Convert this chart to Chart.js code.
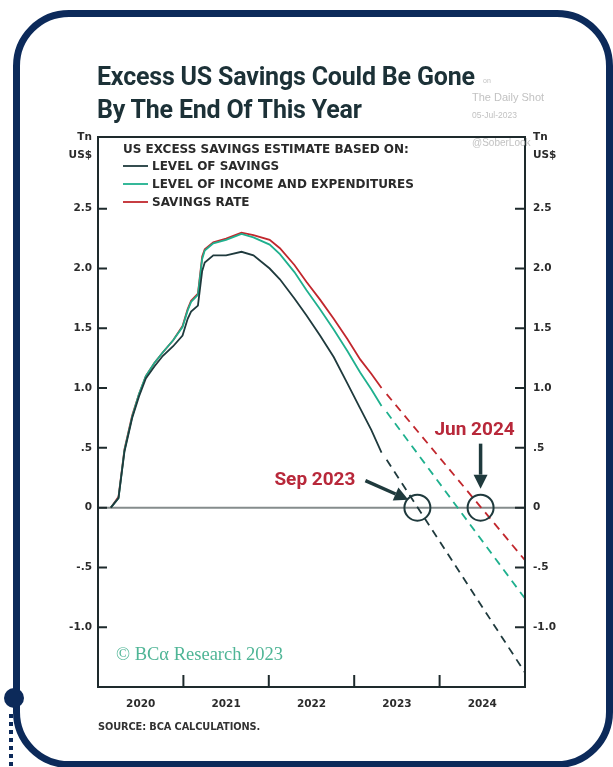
<!DOCTYPE html>
<html lang="en">
<head>
<meta charset="UTF-8">
<title>Excess US Savings</title>
<script src="https://cdn.jsdelivr.net/npm/chart.js@4.4.1/dist/chart.umd.min.js"></script>
<style>
    html, body { margin: 0; padding: 0; background: #ffffff; }
    body { width: 613px; height: 767px; position: relative; overflow: hidden; font-family: 'DejaVu Sans', sans-serif; }
    #frame {
        position: absolute; left: 13px; top: 10px; width: 586px; height: 744px;
        border: 7px solid #0c2a5a; border-radius: 56px;
    }
    #dot { position: absolute; left: 4px; top: 688px; width: 20px; height: 20px; border-radius: 50%; background: #0c2a5a; }
    #dots { position: absolute; left: 9px; top: 714px; width: 4px; height: 53px;
        background: repeating-linear-gradient(#0c2a5a 0 4px, transparent 4px 8px); }
    #wrap { position: absolute; left: 0; top: 0; width: 613px; height: 767px; }
    .t { position: absolute; white-space: nowrap; }
    #title { left: 97px; top: 60px; font-family: Roboto, sans-serif; font-weight: 700; font-size: 25px;
        line-height: 33px; color: #1c3137; letter-spacing: -0.2px; }
    .wm { color: #c2c2c2; font-family: 'Liberation Sans', sans-serif; }
    #bca { left: 116px; top: 644px; font-family: 'Liberation Serif', serif; font-size: 18.5px; color: #4fb596; }
    #source { left: 98px; top: 721px; font-size: 9.8px; font-weight: 700; color: #333; letter-spacing: -0.1px; }
</style>
</head>
<body>
<div id="frame"></div>
<div id="dot"></div>
<div id="dots"></div>
<div id="wrap"><canvas id="chart"></canvas></div>
<div class="t" id="title">Excess US Savings Could Be Gone<br>By The End Of This Year</div>
<div class="t wm" style="left:483px;top:77px;font-size:7px;">on</div>
<div class="t wm" style="left:472px;top:91px;font-size:11px;">The Daily Shot</div>
<div class="t wm" style="left:472px;top:110px;font-size:8.5px;">05-Jul-2023</div>
<div class="t wm" style="left:472px;top:137px;font-size:10px;">@SoberLook</div>
<div class="t" id="bca">© BCα Research 2023</div>
<div class="t" id="source">SOURCE: BCA CALCULATIONS.</div>
<script>
// history (decimal years)
const dates = [2020.15, 2020.24, 2020.31, 2020.40, 2020.48, 2020.56, 2020.66, 2020.76, 2020.88, 2020.99,
    2021.05, 2021.09, 2021.17, 2021.22, 2021.25, 2021.35, 2021.50, 2021.68, 2021.82, 2022.01,
    2022.13, 2022.30, 2022.44, 2022.60, 2022.76, 2022.92, 2023.07, 2023.20, 2023.32];
const levelOfSavings = [0, 0.08, 0.47, 0.75, 0.93, 1.08, 1.18, 1.27, 1.35, 1.44,
    1.58, 1.64, 1.69, 1.98, 2.05, 2.11, 2.11, 2.14, 2.11, 2.00,
    1.91, 1.75, 1.61, 1.44, 1.26, 1.04, 0.83, 0.65, 0.46];
const incomeExpenditures = [0, 0.08, 0.48, 0.76, 0.95, 1.10, 1.21, 1.30, 1.40, 1.51,
    1.65, 1.72, 1.78, 2.08, 2.15, 2.21, 2.24, 2.29, 2.26, 2.20,
    2.12, 1.97, 1.82, 1.66, 1.49, 1.31, 1.13, 0.99, 0.85];
const savingsRate = [0, 0.09, 0.49, 0.77, 0.95, 1.10, 1.21, 1.30, 1.40, 1.52,
    1.66, 1.73, 1.79, 2.10, 2.16, 2.22, 2.25, 2.30, 2.28, 2.24,
    2.17, 2.03, 1.89, 1.74, 1.58, 1.41, 1.24, 1.12, 1.00];

// projections (dashed)
const projDates = [2023.38, 2025.0];
const projSavings = [0.40, -1.38];
const projIncome = [0.80, -0.76];
const projRate = [0.95, -0.44];

const seriesNames = ['LEVEL OF SAVINGS', 'LEVEL OF INCOME AND EXPENDITURES', 'SAVINGS RATE'];
const seriesColors = ['#1f3a3d', '#1fb08e', '#c1272d'];
const yTicks = [-1.0, -0.5, 0, 0.5, 1.0, 1.5, 2.0, 2.5];
const years = [2020, 2021, 2022, 2023, 2024];
const zeroDates = [2023.74, 2024.48];
const zeroLabels = ['Sep 2023', 'Jun 2024'];

const pts = (xs, ys) => xs.map((x, i) => ({ x: x, y: ys[i] }));
const fmtY = v => {
    if (v === 0) return '0';
    if (Math.abs(v) < 1) return v.toFixed(1).replace('0.', '.');
    return v.toFixed(1);
};
const tickFont = { family: "'DejaVu Sans', sans-serif", size: 10.5, weight: '700' };

function arrow(ctx, x1, y1, x2, y2) {
    const a = Math.atan2(y2 - y1, x2 - x1);
    const hl = 14, hw = 7;
    const bx = x2 - hl * Math.cos(a), by = y2 - hl * Math.sin(a);
    ctx.beginPath();
    ctx.moveTo(x1, y1);
    ctx.lineTo(bx, by);
    ctx.lineWidth = 3.5;
    ctx.stroke();
    ctx.beginPath();
    ctx.moveTo(x2, y2);
    ctx.lineTo(bx + hw * Math.sin(a), by - hw * Math.cos(a));
    ctx.lineTo(bx - hw * Math.sin(a), by + hw * Math.cos(a));
    ctx.closePath();
    ctx.fill();
}

const decor = {
    id: 'decor',
    beforeDatasetsDraw(chart) {
        const { ctx, chartArea: a, scales } = chart;
        const y0 = scales.y.getPixelForValue(0);
        ctx.save();
        ctx.strokeStyle = '#858c8c';
        ctx.lineWidth = 2;
        ctx.beginPath();
        ctx.moveTo(a.left, y0);
        ctx.lineTo(a.right, y0);
        ctx.stroke();
        ctx.restore();
    },
    afterDraw(chart) {
        const { ctx, chartArea: a, scales } = chart;
        ctx.save();
        // frame
        ctx.strokeStyle = '#1e2a2c';
        ctx.lineWidth = 2;
        ctx.strokeRect(a.left, a.top, a.right - a.left, a.bottom - a.top);
        // inner ticks
        yTicks.forEach(v => {
            const y = scales.y.getPixelForValue(v);
            ctx.beginPath();
            ctx.moveTo(a.left, y); ctx.lineTo(a.left + 9, y);
            ctx.moveTo(a.right, y); ctx.lineTo(a.right - 10, y);
            ctx.stroke();
        });
        years.slice(1).forEach(yr => {
            const x = scales.x.getPixelForValue(yr);
            ctx.beginPath();
            ctx.moveTo(x, a.bottom); ctx.lineTo(x, a.bottom - 12);
            ctx.stroke();
        });
        // unit labels
        ctx.fillStyle = '#2b2b2b';
        ctx.font = "700 10.5px 'DejaVu Sans', sans-serif";
        ctx.textBaseline = 'middle';
        ctx.textAlign = 'right';
        ctx.fillText('Tn', 92, 137);
        ctx.fillText('US$', 92, 155);
        ctx.textAlign = 'left';
        ctx.fillText('Tn', 533, 137);
        ctx.fillText('US$', 533, 155);
        // legend
        ctx.fillStyle = '#2a2a2a';
        ctx.font = "700 12px 'DejaVu Sans', sans-serif";
        ctx.fillText('US EXCESS SAVINGS ESTIMATE BASED ON:', 123, 150);
        seriesNames.forEach((n, i) => {
            const y = 167 + i * 18;
            ctx.strokeStyle = seriesColors[i];
            ctx.lineWidth = 1.8;
            ctx.beginPath();
            ctx.moveTo(123, y - 1); ctx.lineTo(148, y - 1);
            ctx.stroke();
            ctx.fillText(n, 152, y);
        });
        // zero crossings
        zeroDates.forEach((d, i) => {
            const cx = scales.x.getPixelForValue(d);
            const cy = scales.y.getPixelForValue(0);
            ctx.strokeStyle = '#1f3a3d';
            ctx.fillStyle = '#1f3a3d';
            ctx.lineWidth = 2;
            ctx.beginPath();
            ctx.arc(cx, cy, 13, 0, Math.PI * 2);
            ctx.stroke();
            ctx.font = "700 19px Roboto, sans-serif";
            ctx.textBaseline = 'alphabetic';
            if (i === 0) {
                arrow(ctx, cx - 52, cy - 27, cx - 9, cy - 8);
                ctx.fillStyle = '#b8283a';
                ctx.textAlign = 'right';
                ctx.fillText(zeroLabels[i], cx - 62, cy - 23);
            } else {
                arrow(ctx, cx, cy - 64, cx, cy - 19);
                ctx.fillStyle = '#b8283a';
                ctx.textAlign = 'center';
                ctx.fillText(zeroLabels[i], cx - 6, cy - 73);
            }
        });
        ctx.restore();
    }
};

const yAxis = (pos, w, pad) => ({
    position: pos, min: -1.5, max: 3.1,
    grid: { display: false, drawTicks: false }, border: { display: false },
    afterBuildTicks: s => { s.ticks = yTicks.map(v => ({ value: v })); },
    afterFit: s => { s.width = w; },
    ticks: { callback: v => fmtY(v), font: tickFont, color: '#2b2b2b', padding: pad }
});

const solid = (i, vals) => ({
    label: seriesNames[i], data: pts(dates, vals), borderColor: seriesColors[i],
    borderWidth: 1.8, pointRadius: 0, tension: 0, yAxisID: 'y'
});
const dashed = (i, vals) => ({
    label: seriesNames[i] + ' (proj)', data: pts(projDates, vals), borderColor: seriesColors[i],
    borderWidth: 1.8, borderDash: [8, 6], pointRadius: 0, yAxisID: 'y'
});

new Chart(document.getElementById('chart'), {
    type: 'line',
    data: {
        datasets: [
            solid(0, levelOfSavings), solid(1, incomeExpenditures), solid(2, savingsRate),
            dashed(0, projSavings), dashed(1, projIncome), dashed(2, projRate)
        ]
    },
    options: {
        responsive: true, maintainAspectRatio: false, animation: false,
        layout: { padding: { top: 137, left: 0, right: 0, bottom: 0 } },
        plugins: { legend: { display: false }, tooltip: { enabled: false } },
        scales: {
            x: {
                type: 'linear', min: 2020, max: 2025,
                grid: { display: false, drawTicks: false }, border: { display: false },
                afterBuildTicks: s => { s.ticks = years.map(y => ({ value: y + 0.5 })); },
                afterFit: s => { s.height = 80; },
                ticks: { callback: v => String(Math.floor(v)), font: tickFont, color: '#2b2b2b',
                    padding: 11, maxRotation: 0, autoSkip: false }
            },
            y: yAxis('left', 98, 6),
            y2: yAxis('right', 88, 8)
        }
    },
    plugins: [decor]
});
</script>
</body>
</html>
